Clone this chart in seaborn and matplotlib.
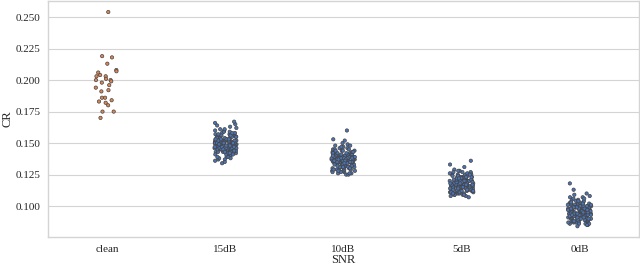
import numpy as np
import pandas as pd
import matplotlib
matplotlib.use("Agg")
import matplotlib.pyplot as plt
import seaborn as sns

# categories on the x axis
snr_levels = ["clean", "15dB", "10dB", "5dB", "0dB"]

# CR values, one list per SNR level
cr_clean = [0.254, 0.218, 0.219, 0.213, 0.208, 0.207, 0.206, 0.204, 0.203, 0.203,
            0.200, 0.201, 0.200, 0.198, 0.199, 0.196, 0.194, 0.192, 0.191, 0.186,
            0.186, 0.184, 0.182, 0.183, 0.180, 0.175, 0.175, 0.170]

cr_15db = [0.152, 0.147, 0.149, 0.141, 0.156, 0.144, 0.150, 0.153, 0.146, 0.139,
           0.158, 0.148, 0.143, 0.151, 0.155, 0.145, 0.160, 0.149, 0.142, 0.147,
           0.154, 0.150, 0.137, 0.146, 0.152, 0.157, 0.144, 0.148, 0.163, 0.151,
           0.140, 0.153, 0.145, 0.149, 0.156, 0.143, 0.147, 0.159, 0.150, 0.138,
           0.152, 0.146, 0.154, 0.141, 0.148, 0.161, 0.145, 0.151, 0.136, 0.149,
           0.155, 0.143, 0.147, 0.153, 0.150, 0.142, 0.157, 0.146, 0.144, 0.152,
           0.165, 0.148, 0.140, 0.154, 0.149, 0.145, 0.151, 0.158, 0.139, 0.147,
           0.153, 0.143, 0.150, 0.156, 0.146, 0.162, 0.148, 0.141, 0.152, 0.144,
           0.149, 0.155, 0.137, 0.151, 0.147, 0.145, 0.160, 0.150, 0.142, 0.154,
           0.148, 0.146, 0.157, 0.143, 0.152, 0.135, 0.149, 0.153, 0.144, 0.150,
           0.166, 0.147, 0.141, 0.155, 0.148, 0.151, 0.139, 0.146, 0.159, 0.152,
           0.145, 0.150, 0.143, 0.154, 0.148, 0.164, 0.142, 0.149, 0.156, 0.147,
           0.138, 0.151, 0.153, 0.145, 0.167, 0.150, 0.144, 0.158, 0.146, 0.134,
           0.152, 0.149, 0.141, 0.155, 0.148, 0.143, 0.161, 0.150, 0.147, 0.153]

cr_10db = [0.138, 0.134, 0.141, 0.129, 0.136, 0.144, 0.132, 0.139, 0.135, 0.127,
           0.142, 0.137, 0.131, 0.140, 0.146, 0.133, 0.138, 0.126, 0.143, 0.136,
           0.130, 0.139, 0.134, 0.148, 0.137, 0.128, 0.141, 0.135, 0.133, 0.145,
           0.138, 0.131, 0.136, 0.142, 0.129, 0.140, 0.134, 0.137, 0.147, 0.132,
           0.139, 0.135, 0.125, 0.143, 0.138, 0.130, 0.136, 0.141, 0.133, 0.144,
           0.137, 0.128, 0.139, 0.134, 0.149, 0.131, 0.140, 0.136, 0.127, 0.142,
           0.135, 0.138, 0.132, 0.145, 0.137, 0.129, 0.141, 0.134, 0.139, 0.126,
           0.143, 0.136, 0.133, 0.140, 0.130, 0.147, 0.138, 0.135, 0.131, 0.142,
           0.137, 0.128, 0.144, 0.134, 0.139, 0.136, 0.150, 0.132, 0.140, 0.135,
           0.127, 0.141, 0.138, 0.133, 0.146, 0.136, 0.130, 0.139, 0.134, 0.143,
           0.137, 0.129, 0.142, 0.135, 0.131, 0.140, 0.125, 0.138, 0.145, 0.133,
           0.136, 0.141, 0.128, 0.139, 0.134, 0.148, 0.137, 0.132, 0.143, 0.135,
           0.130, 0.140, 0.136, 0.126, 0.144, 0.138, 0.133, 0.153, 0.137, 0.131,
           0.141, 0.135, 0.139, 0.129, 0.142, 0.136, 0.160, 0.134, 0.152, 0.138]

cr_5db = [0.119, 0.115, 0.122, 0.112, 0.117, 0.125, 0.114, 0.120, 0.116, 0.110,
          0.123, 0.118, 0.113, 0.121, 0.126, 0.115, 0.119, 0.109, 0.124, 0.117,
          0.112, 0.120, 0.116, 0.127, 0.118, 0.111, 0.122, 0.115, 0.114, 0.125,
          0.119, 0.113, 0.117, 0.123, 0.110, 0.121, 0.116, 0.118, 0.128, 0.114,
          0.120, 0.115, 0.108, 0.124, 0.119, 0.112, 0.117, 0.122, 0.114, 0.126,
          0.118, 0.111, 0.120, 0.116, 0.129, 0.113, 0.121, 0.117, 0.109, 0.123,
          0.115, 0.119, 0.114, 0.125, 0.118, 0.110, 0.122, 0.116, 0.120, 0.112,
          0.124, 0.117, 0.113, 0.121, 0.111, 0.127, 0.119, 0.115, 0.112, 0.123,
          0.118, 0.110, 0.125, 0.116, 0.120, 0.117, 0.128, 0.113, 0.121, 0.115,
          0.109, 0.122, 0.119, 0.114, 0.126, 0.117, 0.111, 0.120, 0.116, 0.124,
          0.118, 0.112, 0.123, 0.115, 0.113, 0.121, 0.108, 0.119, 0.125, 0.114,
          0.117, 0.122, 0.110, 0.120, 0.116, 0.127, 0.118, 0.113, 0.124, 0.115,
          0.111, 0.121, 0.117, 0.109, 0.125, 0.119, 0.114, 0.131, 0.118, 0.112,
          0.122, 0.116, 0.120, 0.110, 0.123, 0.117, 0.136, 0.115, 0.133, 0.107]

cr_0db = [0.097, 0.093, 0.100, 0.089, 0.095, 0.103, 0.091, 0.098, 0.094, 0.087,
          0.101, 0.096, 0.090, 0.099, 0.105, 0.092, 0.097, 0.086, 0.102, 0.095,
          0.089, 0.098, 0.093, 0.107, 0.096, 0.088, 0.100, 0.094, 0.092, 0.104,
          0.097, 0.090, 0.095, 0.101, 0.087, 0.099, 0.093, 0.096, 0.106, 0.091,
          0.098, 0.094, 0.085, 0.102, 0.097, 0.089, 0.095, 0.100, 0.092, 0.103,
          0.096, 0.088, 0.098, 0.093, 0.108, 0.090, 0.099, 0.095, 0.086, 0.101,
          0.094, 0.097, 0.091, 0.104, 0.096, 0.088, 0.100, 0.093, 0.098, 0.087,
          0.102, 0.095, 0.092, 0.099, 0.089, 0.106, 0.097, 0.094, 0.090, 0.101,
          0.096, 0.087, 0.103, 0.093, 0.098, 0.095, 0.109, 0.091, 0.099, 0.094,
          0.086, 0.100, 0.097, 0.092, 0.105, 0.095, 0.089, 0.098, 0.093, 0.102,
          0.096, 0.088, 0.101, 0.094, 0.090, 0.099, 0.085, 0.097, 0.104, 0.092,
          0.095, 0.100, 0.087, 0.098, 0.093, 0.107, 0.096, 0.091, 0.102, 0.094,
          0.089, 0.099, 0.095, 0.086, 0.103, 0.097, 0.092, 0.110, 0.096, 0.090,
          0.100, 0.094, 0.098, 0.088, 0.101, 0.095, 0.118, 0.093, 0.113, 0.084]

groups = [cr_clean, cr_15db, cr_10db, cr_5db, cr_0db]
df = pd.DataFrame({
    "SNR": np.concatenate([[s] * len(v) for s, v in zip(snr_levels, groups)]),
    "CR": np.concatenate(groups),
})
df["kind"] = np.where(df["SNR"] == "clean", "clean", "noisy")

sns.set_style("whitegrid", {"axes.edgecolor": "#d4d4d4", "grid.color": "#d4d4d4"})
plt.rcParams["font.family"] = ["Liberation Serif", "DejaVu Serif"]

fig, ax = plt.subplots(figsize=(6.4, 2.67), dpi=100)
np.random.seed(3)
sns.stripplot(data=df, x="SNR", y="CR", hue="kind", order=snr_levels,
              palette={"clean": "#dd8452", "noisy": "#4c72b0"},
              size=2.4, linewidth=0.5, edgecolor="#444444",
              legend=False, ax=ax)

ax.set_ylim(0.0754, 0.2627)
ax.set_yticks([0.100, 0.125, 0.150, 0.175, 0.200, 0.225, 0.250])
ax.set_xlabel("SNR", fontsize=9, labelpad=0)
ax.set_ylabel("CR", fontsize=9, labelpad=1)
ax.tick_params(labelsize=8, pad=2)
for s in ax.spines.values():
    s.set_linewidth(1.0)

plt.subplots_adjust(left=0.075, right=0.998, top=0.996, bottom=0.112)
plt.savefig("out.png", dpi=100)
